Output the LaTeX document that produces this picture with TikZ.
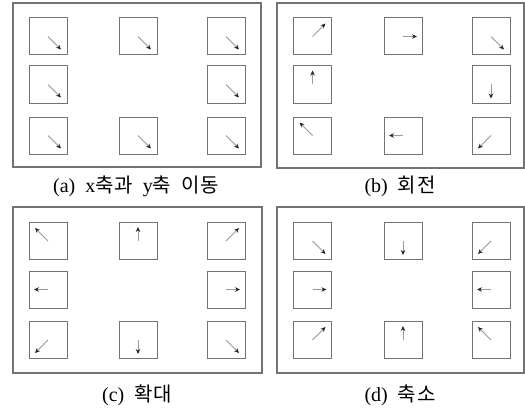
\documentclass[tikz,border=0pt]{standalone}
\usepackage{fontspec}
\setmainfont{Liberation Serif}
\newfontfamily\krfont[LetterSpace=4]{Noto Sans CJK KR}
\usetikzlibrary{arrows.meta,calc}

\tikzset{
  panel/.style={draw=black!55, line width=1.1pt},
  cell/.style={draw=black!55, line width=1pt, minimum width=38pt, minimum height=37pt, inner sep=0pt},
  vec/.style={draw=black!40, line width=1pt, -{Stealth[black!85, length=5pt, width=4.5pt]}},
  caption/.style={font=\fontsize{20pt}{22pt}\selectfont, inner sep=0pt}
}

% one 3x3 ring of cells; #1 prefix, #2..#4 column centres, #5..#7 row centres
\newcommand{\cellring}[7]{%
  \node[cell] (#1tl) at (#2,#5) {};
  \node[cell] (#1tm) at (#3,#5) {};
  \node[cell] (#1tr) at (#4,#5) {};
  \node[cell] (#1ml) at (#2,#6) {};
  \node[cell] (#1mr) at (#4,#6) {};
  \node[cell] (#1bl) at (#2,#7) {};
  \node[cell] (#1bm) at (#3,#7) {};
  \node[cell] (#1br) at (#4,#7) {};
}
% arrow leaving the centre of a cell
\newcommand{\vecfrom}[3]{\draw[vec] (#1.center) -- ($(#1.center)+(#2,#3)$);}
\newcommand{\gap}{\hspace{10pt}}

\begin{document}
\begin{tikzpicture}[x=1pt,y=-1pt]
\useasboundingbox (0,0) rectangle (525,412);

% frames
\draw[panel] (13,3) rectangle (261,167);
\draw[panel] (277,3) rectangle (524,168);
\draw[panel] (13,207) rectangle (262,373);
\draw[panel] (277,207) rectangle (524,373);

% cells
\cellring{a}{48}{138}{226}{36.5}{84.5}{135.5}
\cellring{b}{312.5}{403}{491}{36.5}{84.5}{135.5}
\cellring{c}{48}{138}{226}{241}{289.5}{340}
\cellring{d}{312.5}{403}{491}{241}{289.5}{340}

% (a) translation: every vector points down-right
\foreach \n in {atl,atm,atr,aml,amr,abl,abm,abr}{\vecfrom{\n}{13}{13}}

% (b) rotation
\vecfrom{btl}{13}{-13}
\vecfrom{btm}{14}{0}
\vecfrom{btr}{13}{13}
\vecfrom{bmr}{0}{14}
\vecfrom{bbr}{-13}{13}
\vecfrom{bbm}{-14}{0}
\vecfrom{bbl}{-13}{-13}
\vecfrom{bml}{0}{-14}

% (c) expansion
\vecfrom{ctl}{-13}{-13}
\vecfrom{ctm}{0}{-14}
\vecfrom{ctr}{13}{-13}
\vecfrom{cml}{-14}{0}
\vecfrom{cmr}{14}{0}
\vecfrom{cbl}{-13}{13}
\vecfrom{cbm}{0}{14}
\vecfrom{cbr}{13}{13}

% (d) contraction
\vecfrom{dtl}{13}{13}
\vecfrom{dtm}{0}{14}
\vecfrom{dtr}{-13}{13}
\vecfrom{dml}{14}{0}
\vecfrom{dmr}{-14}{0}
\vecfrom{dbl}{13}{-13}
\vecfrom{dbm}{0}{-14}
\vecfrom{dbr}{-13}{-13}

% captions
\node[caption] (capa) at (136,186) {(a)\gap x{\krfont 축과}\gap y{\krfont 축}\gap{\krfont 이동}};
\node[caption] (capb) at (400,186) {(b)\gap{\krfont 회전}};
\node[caption] (capc) at (137,395) {(c)\gap{\krfont 확대}};
\node[caption] (capd) at (400,395) {(d)\gap{\krfont 축소}};
\end{tikzpicture}
\end{document}
